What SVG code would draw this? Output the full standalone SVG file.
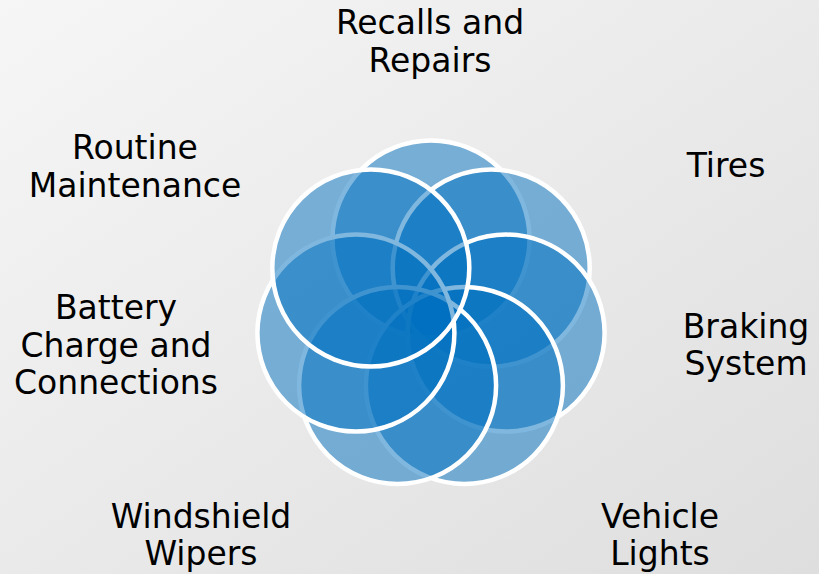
<svg xmlns="http://www.w3.org/2000/svg" width="819" height="574" viewBox="0 0 819 574">
  <defs>
    <linearGradient id="bg" x1="0" y1="0" x2="1" y2="1">
      <stop offset="0" stop-color="#f6f6f6"/>
      <stop offset="1" stop-color="#dedede"/>
    </linearGradient>
  </defs>
  <style>
    .c { fill: #0070c0; fill-opacity: 0.5; stroke: #ffffff; stroke-width: 4.5; }
    .t { font-family: "DejaVu Sans", Verdana, sans-serif; font-size: 33px; fill: #000000; text-anchor: middle; }
  </style>
  <rect x="0" y="0" width="819" height="574" fill="url(#bg)"/>
  <g id="connectors"/>
  <g id="recalls">
    <circle class="c" cx="431" cy="239" r="98.5"/>
    <text class="t"><tspan x="430" y="34">Recalls and</tspan><tspan x="430" y="72">Repairs</tspan></text>
  </g>
  <g id="tires">
    <circle class="c" cx="491.2" cy="268" r="98.5"/>
    <text class="t"><tspan x="726" y="177">Tires</tspan></text>
  </g>
  <g id="braking">
    <circle class="c" cx="506.1" cy="333.1" r="98.5"/>
    <text class="t"><tspan x="746" y="338">Braking</tspan><tspan x="746" y="375">System</tspan></text>
  </g>
  <g id="lights">
    <circle class="c" cx="464.4" cy="385.4" r="98.5"/>
    <text class="t"><tspan x="660" y="528">Vehicle</tspan><tspan x="660" y="565">Lights</tspan></text>
  </g>
  <g id="wipers">
    <circle class="c" cx="397.6" cy="385.4" r="98.5"/>
    <text class="t"><tspan x="201" y="528">Windshield</tspan><tspan x="201" y="565">Wipers</tspan></text>
  </g>
  <g id="battery">
    <circle class="c" cx="355.9" cy="333.1" r="98.5"/>
    <text class="t"><tspan x="116" y="319">Battery</tspan><tspan x="116" y="357">Charge and</tspan><tspan x="116" y="394">Connections</tspan></text>
  </g>
  <g id="routine">
    <circle class="c" cx="370.8" cy="268" r="98.5"/>
    <text class="t"><tspan x="135" y="159">Routine</tspan><tspan x="135" y="197">Maintenance</tspan></text>
  </g>
</svg>
